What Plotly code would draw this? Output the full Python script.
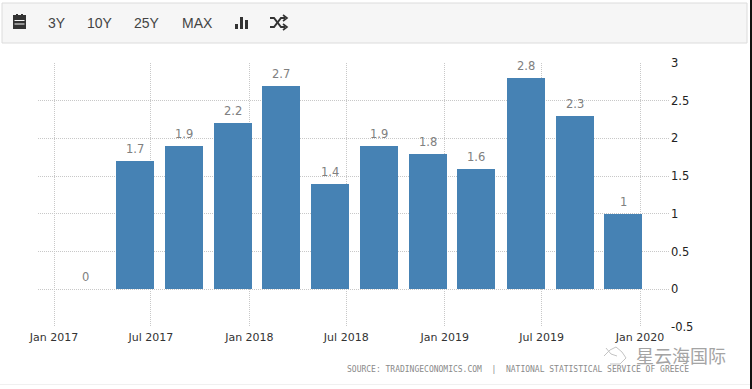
import plotly.graph_objects as go

W, H = 752, 389
L, R, T, B = 38, 670, 63, 327

dates = ["2017-03-01", "2017-06-01", "2017-09-01", "2017-12-01",
         "2018-03-01", "2018-06-01", "2018-09-01", "2018-12-01",
         "2019-03-01", "2019-06-01", "2019-09-01", "2019-12-01"]
values = [0, 1.7, 1.9, 2.2, 2.7, 1.4, 1.9, 1.8, 1.6, 2.8, 2.3, 1]
value_labels = ["0", "1.7", "1.9", "2.2", "2.7", "1.4", "1.9", "1.8", "1.6", "2.8", "2.3", "1"]
x_tick_dates = ["2017-01-01", "2017-07-01", "2018-01-01", "2018-07-01",
                "2019-01-01", "2019-07-01", "2020-01-01"]
x_tick_labels = ["Jan 2017", "Jul 2017", "Jan 2018", "Jul 2018",
                 "Jan 2019", "Jul 2019", "Jan 2020"]
y_ticks = [-0.5, 0, 0.5, 1, 1.5, 2, 2.5, 3]
y_tick_labels = ["-0.5", "0", "0.5", "1", "1.5", "2", "2.5", "3"]
toolbar_labels = ["3Y", "10Y", "25Y", "MAX"]
toolbar_centers = [57, 100, 147, 197]
source_text = "SOURCE: TRADINGECONOMICS.COM  |  NATIONAL STATISTICAL SERVICE OF GREECE"
watermark_text = "星云海国际"


def px(x):
    return (x - L) / (R - L)


def py(y):
    return (B - y) / (B - T)


def rect(x0, y0, x1, y1, fill, line=None, lw=1):
    return dict(type="rect", xref="paper", yref="paper", x0=px(x0), x1=px(x1), y0=py(y0), y1=py(y1),
                fillcolor=fill, line=dict(color=line or fill, width=lw if line else 0), layer="below")


def path(points, color, lw=1.6):
    d = "M " + " L ".join(f"{px(a):.5f},{py(b):.5f}" for a, b in points)
    return dict(type="path", xref="paper", yref="paper", path=d,
                line=dict(color=color, width=lw), layer="above")


icon = "#333333"
shapes = [
    rect(2, 3, 747, 43, "#f6f6f6", "#dcdcdc", 1),
    rect(750, 0, 752, 389, "#111111"),
    rect(0, 384, 750, 385, "#f0f0f0"),
    # calendar icon
    rect(13, 17, 26, 29, icon),
    rect(13, 15, 26, 17, icon),
    rect(16, 14, 18, 16, icon),
    rect(21, 14, 23, 16, icon),
    rect(14.5, 20, 24.5, 21, "#f6f6f6"),
    rect(14.5, 23.5, 24.5, 24.5, "#f6f6f6"),
    # bar-chart icon
    rect(235, 24, 238, 29, icon),
    rect(240, 17, 243, 29, icon),
    rect(245, 20, 248, 29, icon),
    # shuffle icon
    path([(270, 18), (274, 18), (281, 27), (285, 27)], icon, 2),
    path([(270, 27), (274, 27), (281, 18), (285, 18)], icon, 2),
    path([(283, 15), (287, 18), (283, 21)], icon, 1.6),
    path([(283, 24), (287, 27), (283, 30)], icon, 1.6),
    # watermark bird sketch
    path([(604, 356), (610, 350), (616, 347), (622, 352), (626, 358), (620, 364), (610, 364)], "#c4c4c4", 1),
    path([(606, 348), (611, 354), (617, 356)], "#c4c4c4", 1),
]

annotations = [
    dict(text=t, xref="paper", yref="paper", x=px(c), y=py(22.5), showarrow=False,
         xanchor="center", yanchor="middle", font=dict(family="Liberation Sans", size=14, color="#444444"))
    for t, c in zip(toolbar_labels, toolbar_centers)
]
annotations += [
    dict(text=source_text.replace(" ", "&nbsp;"), xref="paper", yref="paper", x=px(345), y=py(369.5),
         showarrow=False, xanchor="left", yanchor="middle",
         font=dict(family="DejaVu Sans Mono", size=8.0, color="#8a8a8a")),
    dict(text=watermark_text, xref="paper", yref="paper", x=px(681), y=py(355), showarrow=False,
         xanchor="center", yanchor="middle",
         font=dict(family="Noto Sans CJK SC", size=18, color="#a4a4a4")),
]
annotations += [
    dict(text=t, x=d, y=v, xref="x", yref="y", showarrow=False, xanchor="center", yanchor="bottom",
         yshift=3, font=dict(family="DejaVu Sans", size=11.5, color="#808080"))
    for d, v, t in zip(dates, values, value_labels)
]

fig = go.Figure(go.Bar(
    x=dates, y=values, cliponaxis=False,
    width=71 * 86400000, marker=dict(color="#4682b4", line=dict(width=0)),
    hoverinfo="x+y",
))
fig.update_layout(
    width=W, height=H, margin=dict(l=L, r=W - R, t=T, b=H - B, pad=0),
    paper_bgcolor="white", plot_bgcolor="white", showlegend=False,
    shapes=shapes, annotations=annotations, bargap=0,
    xaxis=dict(type="date", range=["2016-12-02", "2020-02-26"], tickmode="array",
               tickvals=x_tick_dates, ticktext=x_tick_labels, tickangle=0,
               showgrid=True, gridcolor="#c8c8c8", griddash="1px,1px", gridwidth=1,
               zeroline=False, showline=False, ticks="", ticklabelstandoff=2,
               tickfont=dict(family="DejaVu Sans", size=11, color="#333333")),
    yaxis=dict(range=[-0.5, 3], side="right", tickmode="array", tickvals=y_ticks,
               ticktext=y_tick_labels, showgrid=True, gridcolor="#c8c8c8", griddash="1px,1px",
               gridwidth=1, zeroline=False, showline=False, ticks="",
               tickfont=dict(family="DejaVu Sans", size=11.5, color="#222222")),
)
fig.write_html("out.html", config=dict(displayModeBar=False),
               post_script="document.body.style.margin='0';document.body.style.overflow='hidden';")
